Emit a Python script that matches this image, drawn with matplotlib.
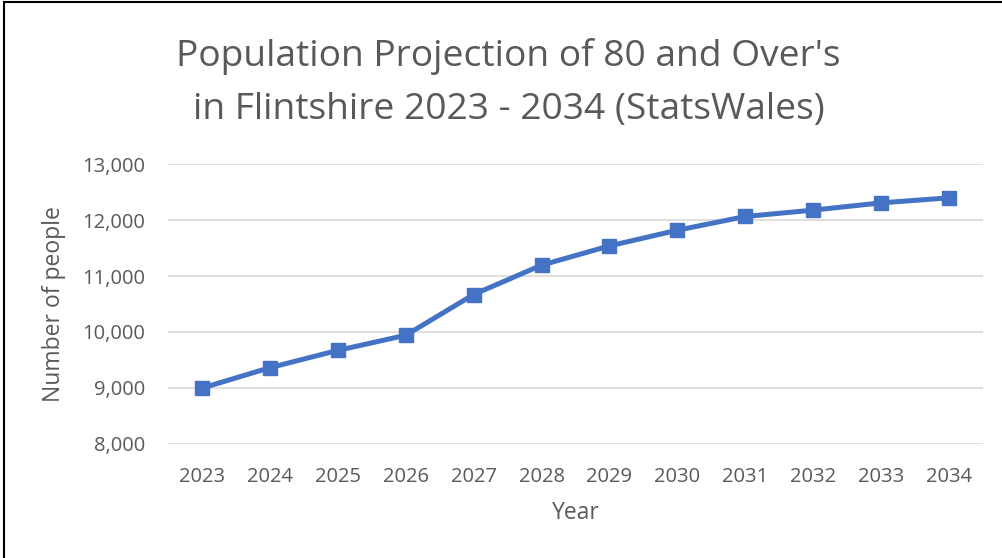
import matplotlib
matplotlib.use("Agg")
import matplotlib.pyplot as plt
from matplotlib.patches import Rectangle
from matplotlib.ticker import FuncFormatter

years = ["2023", "2024", "2025", "2026", "2027", "2028", "2029", "2030", "2031", "2032", "2033", "2034"]
population = [8995, 9360, 9670, 9940, 10670, 11195, 11540, 11820, 12066, 12180, 12310, 12400]
y_ticks = [8000, 9000, 10000, 11000, 12000, 13000]
title_lines = ["Population Projection of 80 and Over's", "in Flintshire 2023 - 2034 (StatsWales)"]

plt.rcParams['font.family'] = ['Open Sans', 'DejaVu Sans']
gray = '#595959'
W, H = 1003, 558

fig = plt.figure(figsize=(W / 100, H / 100), dpi=100)
ax = fig.add_axes([168 / W, 1 - 443.7 / H, 815 / W, 279.4 / H])

x = list(range(len(years)))
ax.plot(x, population, color='#4472C4', lw=3.6, marker='s', markersize=10.5, zorder=3)

ax.set_xlim(-0.5, len(years) - 0.5)
ax.set_ylim(8000, 13000)
ax.set_yticks(y_ticks)
ax.yaxis.set_major_formatter(FuncFormatter(lambda v, p: f"{int(v):,}"))
ax.set_xticks(x)
ax.set_xticklabels(years)
ax.grid(axis='y', color='#D9D9D9', lw=1.2)
ax.set_axisbelow(True)
for s in ax.spines.values():
    s.set_visible(False)
ax.tick_params(length=0, colors=gray, labelsize=14.5)
ax.tick_params(axis='x', pad=16.8)
ax.tick_params(axis='y', pad=16.6)

ax.set_xlabel("Year", color=gray, fontsize=16.5, va='center')
ax.xaxis.set_label_coords(0.5, (443.7 - 513) / 279.4)
ax.set_ylabel("Number of people", color=gray, fontsize=16.5, va='center', ha='center')
ax.yaxis.set_label_coords((54 - 168) / 815, 0.5)

fig.text(508.5 / W, 1 - 66 / H, title_lines[0], ha='center', va='baseline', fontsize=26.7, color=gray)
fig.text(509 / W, 1 - 119 / H, title_lines[1], ha='center', va='baseline', fontsize=26.7, color=gray)

fig.patches.append(Rectangle((4 / W, -0.01), 1.1, 1 - 2 / H + 0.01, transform=fig.transFigure,
                             fill=False, edgecolor='black', lw=1.5))

fig.savefig("out.png", dpi=100)
